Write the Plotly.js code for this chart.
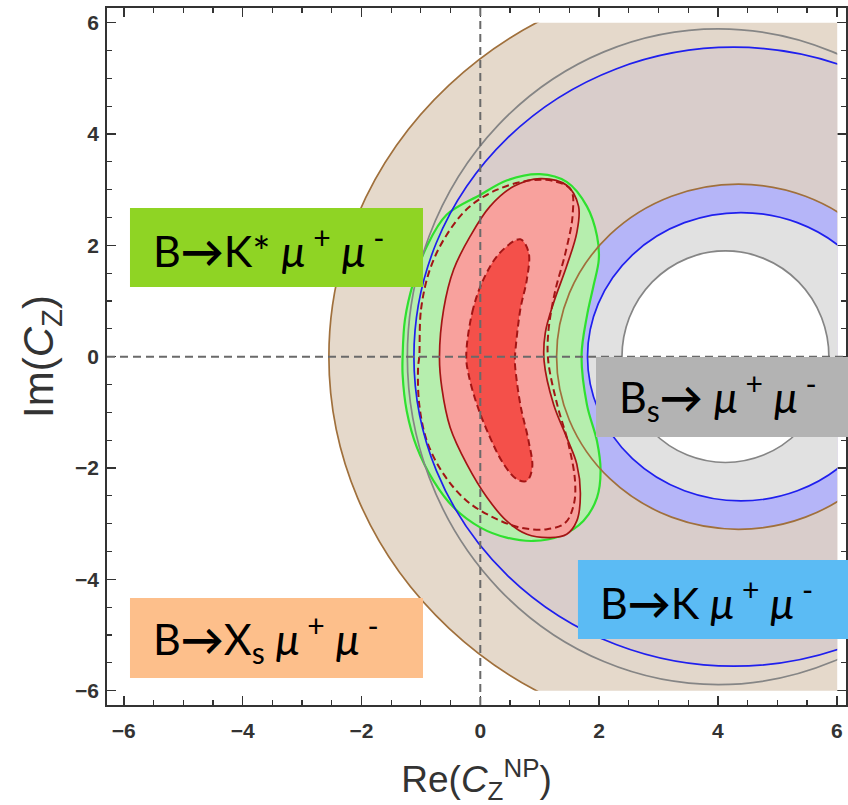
<!DOCTYPE html>
<html>
<head>
<meta charset="utf-8">
<script src="https://cdn.plot.ly/plotly-3.0.1.min.js"></script>
<style>html,body{margin:0;padding:0;background:#fff;}#chart{width:848px;height:805px;}</style>
</head>
<body>
<div id="chart"></div>
<script>
// ---- data ----
// Ring-shaped constraints (ellipse contours centred on the real axis)
const ringNames = ['B→Xs outer', 'B→Xs inner', 'Bs outer', 'Bs inner', 'B→K outer', 'B→K inner'];
const ringCx = [4.35, 4.34, 4.00, 4.12, 4.26, 4.38];
const ringCy = [0, 0, 0, 0, 0, 0];
const ringRx = [6.90, 3.06, 5.23, 1.74, 5.38, 2.58];
const ringRy = [6.90, 3.10, 5.89, 1.90, 5.56, 2.59];

// B→K* mu mu allowed region (green)
const kstarX = [-1.31, -1.27, -1.13, -0.90, -0.57, 0.00, 0.45, 1.00, 1.45, 1.79, 1.96, 1.99, 1.90, 1.79, 1.70, 1.79, 1.96, 2.02, 1.96, 1.73, 1.34, 0.89, 0.44, 0.00, -0.45, -0.79, -1.07, -1.24, -1.31, -1.31];
const kstarY = [0.00, 0.67, 1.33, 1.99, 2.55, 2.91, 3.17, 3.28, 3.14, 2.70, 2.17, 1.75, 1.27, 0.73, 0.02, -0.86, -1.52, -2.05, -2.53, -2.95, -3.22, -3.31, -3.25, -3.07, -2.71, -2.23, -1.63, -0.98, -0.32, 0.00];

// combined fit, outer region (solid)
const fitOuterX = [-0.69, -0.62, -0.45, -0.17, 0.16, 0.56, 1.01, 1.45, 1.65, 1.62, 1.45, 1.23, 1.09, 1.07, 1.23, 1.45, 1.62, 1.68, 1.62, 1.45, 1.17, 0.78, 0.44, 0.11, -0.23, -0.51, -0.65, -0.69];
const fitOuterY = [0.00, 0.85, 1.57, 2.17, 2.70, 3.06, 3.20, 3.08, 2.70, 2.23, 1.63, 0.97, 0.43, -0.08, -0.86, -1.45, -1.93, -2.47, -2.95, -3.19, -3.25, -3.19, -2.95, -2.53, -1.93, -1.27, -0.56, 0.00];

// combined fit, outer region (dashed)
const fitDashX = [-1.03, -1.00, -0.85, -0.58, -0.20, 0.28, 0.85, 1.25, 1.52, 1.55, 1.43, 1.25, 1.14, 1.14, 1.29, 1.48, 1.59, 1.57, 1.43, 1.12, 0.67, 0.22, -0.23, -0.62, -0.90, -1.03, -1.05, -1.03];
const fitDashY = [0.00, 0.85, 1.57, 2.17, 2.68, 3.00, 3.17, 3.15, 3.00, 2.55, 1.87, 1.15, 0.43, -0.08, -0.86, -1.57, -2.23, -2.65, -2.98, -3.10, -3.07, -2.89, -2.59, -2.11, -1.52, -0.86, -0.20, 0.00];

// combined fit, inner region (dashed)
const fitInnerX = [-0.24, -0.14, 0.05, 0.33, 0.67, 0.81, 0.78, 0.67, 0.58, 0.58, 0.67, 0.81, 0.87, 0.78, 0.61, 0.39, 0.16, -0.06, -0.20, -0.24];
const fitInnerY = [0.00, 0.79, 1.39, 1.87, 2.11, 1.87, 1.39, 0.85, 0.00, -0.14, -0.86, -1.52, -1.99, -2.23, -2.20, -1.93, -1.45, -0.86, -0.32, 0.00];

// reference lines and ticks
const refLineX = [0];
const refLineY = [0];
const tickVals = [-6, -4, -2, 0, 2, 4, 6];

// labels
const labelTexts = [
  'B<b>→</b>K* <i>μ</i><sup> +</sup> <i>μ</i><sup> -</sup>',
  'B<b>→</b>X<sub>s</sub> <i>μ</i><sup> +</sup> <i>μ</i><sup> -</sup>',
  'B<sub>s</sub><b>→</b> <i>μ</i><sup> +</sup> <i>μ</i><sup> -</sup>',
  'B<b>→</b>K <i>μ</i><sup> +</sup> <i>μ</i><sup> -</sup>'
];

// ---- styles ----
const ringLineColors = ['#a0703c', '#a0703c', '#858585', '#858585', '#1f1fee', '#1f1fee'];
const fillOrder = [0, 2, 4, 1, 5, 3];
const fillColors = ['#e5d9cb', '#e2d7cb', '#d9cdcb', '#b5b5f8', '#e1e1e1', '#ffffff'];

const shapes = [];
fillOrder.forEach((i, k) => {
  shapes.push({type: 'circle', xref: 'x2', yref: 'y2', layer: 'below',
    x0: ringCx[i] - ringRx[i], x1: ringCx[i] + ringRx[i],
    y0: ringCy[i] - ringRy[i], y1: ringCy[i] + ringRy[i],
    fillcolor: fillColors[k], line: {width: 0}});
});
ringNames.forEach((n, i) => {
  shapes.push({type: 'circle', xref: 'x2', yref: 'y2', layer: 'above',
    x0: ringCx[i] - ringRx[i], x1: ringCx[i] + ringRx[i],
    y0: ringCy[i] - ringRy[i], y1: ringCy[i] + ringRy[i],
    fillcolor: 'rgba(0,0,0,0)', line: {width: 1.7, color: ringLineColors[i]}});
});
refLineX.forEach(v => shapes.push({type: 'line', xref: 'x', yref: 'paper', layer: 'above',
  x0: v, x1: v, y0: 0, y1: 1, line: {color: '#6a6a6a', width: 2, dash: '8px,5px'}}));
refLineY.forEach(v => shapes.push({type: 'line', xref: 'paper', yref: 'y', layer: 'above',
  x0: 0, x1: 1, y0: v, y1: v, line: {color: '#6a6a6a', width: 2, dash: '8px,5px'}}));

// label boxes (paper coords)
const boxes = [
  {x0: 0.0311, x1: 0.4276, y0: 0.5997, y1: 0.7131, c: '#8fd424'},
  {x0: 0.0311, x1: 0.4276, y0: 0.0387, y1: 0.1535, c: '#fdbf8b'},
  {x0: 0.6617, x1: 1.01, y0: 0.3845, y1: 0.4993, c: '#b3b3b3'},
  {x0: 0.6373, x1: 1.01, y0: 0.0947, y1: 0.2080, c: '#5bbbf4'}
];
boxes.forEach(b => shapes.push({type: 'rect', xref: 'paper', yref: 'paper', layer: 'above',
  x0: b.x0, x1: b.x1, y0: b.y0, y1: b.y1, fillcolor: b.c, line: {width: 0}}));

const textPos = [
  {x: 0.0595, y: 0.6564},
  {x: 0.0595, y: 0.0961},
  {x: 0.6900, y: 0.4419},
  {x: 0.6650, y: 0.1514}
];
const annotations = labelTexts.map((t, i) => ({
  text: t, xref: 'paper', yref: 'paper', x: textPos[i].x, y: textPos[i].y,
  xanchor: 'left', yanchor: 'middle', showarrow: false,
  font: {family: 'Lato, "DejaVu Sans", sans-serif', size: 43, color: '#000'}
}));

const red = '#a31515';
const traces = [
  {type: 'scatter', x: [], y: [], xaxis: 'x', yaxis: 'y', showlegend: false, hoverinfo: 'skip'},
  {type: 'scatter', mode: 'lines', x: kstarX, y: kstarY, xaxis: 'x2', yaxis: 'y2',
    fill: 'toself', fillcolor: '#b6eeae', line: {color: '#2fe02f', width: 2.2, shape: 'spline', smoothing: 1},
    showlegend: false, hoverinfo: 'skip'},
  {type: 'scatter', mode: 'lines', x: fitOuterX, y: fitOuterY, xaxis: 'x2', yaxis: 'y2',
    fill: 'toself', fillcolor: '#f8a19d', line: {color: red, width: 1.7, shape: 'spline', smoothing: 1},
    showlegend: false, hoverinfo: 'skip'},
  {type: 'scatter', mode: 'lines', x: fitDashX, y: fitDashY, xaxis: 'x2', yaxis: 'y2',
    line: {color: red, width: 2, dash: '7px,4px', shape: 'spline', smoothing: 1},
    showlegend: false, hoverinfo: 'skip'},
  {type: 'scatter', mode: 'lines', x: fitInnerX, y: fitInnerY, xaxis: 'x2', yaxis: 'y2',
    fill: 'toself', fillcolor: '#f4504a', line: {color: red, width: 2, dash: '7px,4px', shape: 'spline', smoothing: 1},
    showlegend: false, hoverinfo: 'skip'}
];

const axFont = {family: '"Liberation Sans", Arial, sans-serif', size: 21, color: '#333', weight: 'bold'};
const layout = {
  width: 848, height: 805,
  margin: {l: 107, r: 2, t: 8, b: 100, pad: 0},
  paper_bgcolor: '#fff', plot_bgcolor: '#fff',
  showlegend: false,
  xaxis: {range: [-6.283, 6.155], tickvals: tickVals, ticks: 'inside', ticklen: 9, tickwidth: 1.5,
    tickcolor: '#333', showline: true, linecolor: '#333', linewidth: 1.8, mirror: 'ticks',
    showgrid: false, zeroline: false, tickfont: axFont, fixedrange: true, ticklabelstandoff: 6,
    minor: {dtick: 0.5, tick0: 0, ticks: 'inside', ticklen: 5, tickwidth: 1.2, tickcolor: '#333', showgrid: false},
    title: {text: 'Re(<i>C</i><sub>Z</sub><sup>NP</sup>)', standoff: 26, font: {family: '"Liberation Sans", Arial, sans-serif', size: 37, color: '#333'}}},
  yaxis: {range: [-6.257, 6.264], tickvals: tickVals, ticks: 'inside', ticklen: 9, tickwidth: 1.5,
    tickcolor: '#333', showline: true, linecolor: '#333', linewidth: 1.8, mirror: 'ticks',
    showgrid: false, zeroline: false, tickfont: axFont, fixedrange: true, ticklabelstandoff: 2,
    minor: {dtick: 0.5, tick0: 0, ticks: 'inside', ticklen: 5, tickwidth: 1.2, tickcolor: '#333', showgrid: false},
    title: {text: 'Im(<i>C</i><sub>Z</sub>)', standoff: 8, font: {family: '"Liberation Sans", Arial, sans-serif', size: 42, color: '#333'}}},
  xaxis2: {domain: [0.0227, 0.9881], range: [-6, 6], anchor: 'y2', visible: false, fixedrange: true},
  yaxis2: {domain: [0.0205, 0.9789], range: [-6, 6], anchor: 'x2', visible: false, fixedrange: true},
  shapes: shapes,
  annotations: annotations
};

Plotly.newPlot('chart', traces, layout, {staticPlot: true, displayModeBar: false});
</script>
</body>
</html>
